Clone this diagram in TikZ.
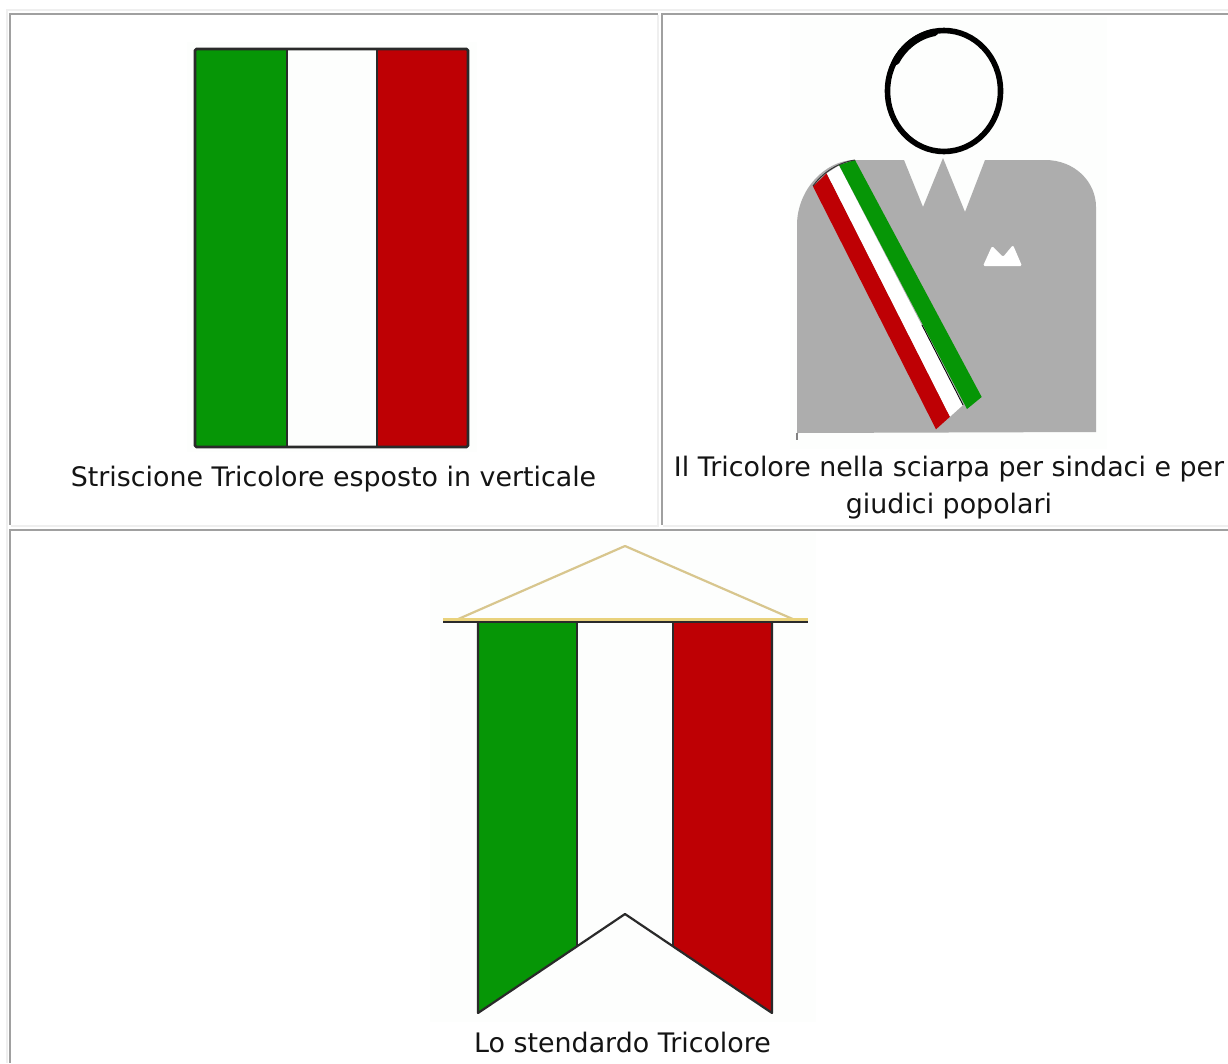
\documentclass[tikz,border=0pt]{standalone}
\usepackage{fontspec}
\setmainfont{DejaVu Sans}
\definecolor{flaggreen}{HTML}{069606}
\definecolor{flagred}{HTML}{BE0004}
\definecolor{paper}{HTML}{FDFEFD}
\definecolor{suit}{HTML}{ADADAD}
\definecolor{rimdark}{HTML}{A0A0A0}
\definecolor{rimlight}{HTML}{EFEFEF}
\definecolor{rope}{HTML}{D8C68E}
\definecolor{rod}{HTML}{E9D27C}
\definecolor{ink}{HTML}{2A2A2A}
\tikzset{
  caption/.style={font=\fontsize{26.85pt}{30pt}\selectfont,text=black!92,anchor=base,inner sep=0pt},
  rimd/.style={fill=rimdark,draw=none},
  riml/.style={fill=rimlight,draw=none},
  outline/.style={draw=ink,line width=2.2pt,line join=round}
}
\begin{document}
\begin{tikzpicture}[x=1pt,y=-1pt]
\useasboundingbox (0,0) rectangle (1228,1063);
\fill[white] (0,0) rectangle (1228,1063);
% outer table rim
\fill[riml] (6,9) rectangle (1228,11);
\fill[riml] (6,9) rectangle (8,1063);
% cell rims
\fill[rimd] (9,13) rectangle (658,15);
\fill[rimd] (9,13) rectangle (11,525);
\fill[riml] (657,15) rectangle (659,526);
\fill[riml] (11,525) rectangle (659,527);
\fill[rimd] (661,13) rectangle (1228,15);
\fill[rimd] (661,13) rectangle (663,525);
\fill[riml] (663,525) rectangle (1228,527);
\fill[rimd] (9,529) rectangle (1228,531);
\fill[rimd] (9,529) rectangle (11,1063);
% image papers
\fill[paper] (187,42) rectangle (477,452);
\fill[paper] (790,17) rectangle (1107,449);
\fill[paper] (430,532) rectangle (816,1022);
% vertical banner
\fill[flaggreen] (195,49) rectangle (287,447);
\fill[flagred] (377,49) rectangle (468,447);
\draw[ink,line width=2.8pt,line join=round,rounded corners=1.5pt] (195,49) rectangle (468,447);
\draw[ink,line width=2.4pt] (287,49) -- (287,447);
\draw[ink,line width=2.4pt] (377,49) -- (377,447);
% person
\draw[black,line width=5.6pt] (944,91) ellipse [x radius=56.5,y radius=60.5];
\draw[black,line width=7.5pt,line cap=round] plot[domain=100:150,samples=20,smooth] ({944+55.5*cos(\x)},{91-59.5*sin(\x)});
\fill[suit] (797,433) -- (797,225) .. controls (797,190) and (825,160) .. (855,160) -- (904,160)
  -- (923,207) -- (943,158) -- (965,212) -- (985,160) -- (1045,160)
  .. controls (1075,160) and (1096,182) .. (1096,207) -- (1096,432) -- cycle;
\draw[suit!75!black,line width=1.5pt] (797,433) -- (797,440);
\fill[white,rounded corners=1.5pt] (983,266) -- (992,246) -- (1003,257) -- (1013,245) -- (1022,266) -- cycle;
\fill[flagred] (813,186.5) -- (826.7,173.3) -- (950,416.7) -- (936,429.3) -- cycle;
\fill[white] (826.7,173.3) -- (839,165.5) -- (963,405) -- (950,416.7) -- cycle;
\fill[flaggreen] (839,165) -- (855,160) -- (981.7,397) -- (967,409) -- cycle;
\draw[black,line width=0.8pt] (922,325) -- (963,405);
\draw[black!80,line width=1pt] (813,186) .. controls (820,176) and (835,163) .. (855,160);
% standard
\fill[paper] (577,621) rectangle (673,947);
\fill[flaggreen] (478,621) -- (577,621) -- (577,947) -- (478,1013) -- cycle;
\fill[flagred] (673,621) -- (772,621) -- (772,1013) -- (673,947) -- cycle;
\draw[outline] (478,621) -- (478,1013) -- (625,914) -- (772,1013) -- (772,621);
\draw[ink,line width=2.2pt] (577,621) -- (577,947);
\draw[ink,line width=2.2pt] (673,621) -- (673,947);
\draw[rope,line width=2.2pt,line join=round] (456,620) -- (625,546) -- (795,620);
\fill[ink] (443,620) rectangle (808,623);
\fill[rod] (443,617.5) rectangle (808,620.5);
% captions
\node[caption] (capa) at (333.5,486) {Striscione Tricolore esposto in verticale};
\node[caption] (capb) at (949,476) {Il Tricolore nella sciarpa per sindaci e per};
\node[caption] (capc) at (949,513) {giudici popolari};
\node[caption] (capd) at (622.5,1052) {Lo stendardo Tricolore};
\end{tikzpicture}
\end{document}
